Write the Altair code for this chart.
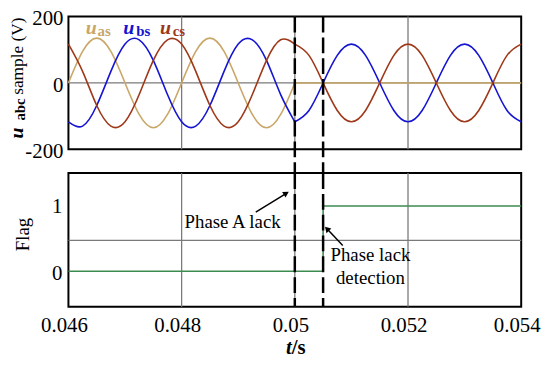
import altair as alt
import pandas as pd

# ---------------- data ----------------
t_pre = [0.046, 0.04625, 0.0465, 0.04675, 0.047, 0.04725, 0.0475, 0.04775,
         0.048, 0.04825, 0.0485, 0.04875, 0.049, 0.04925, 0.0495, 0.04975, 0.05]
t_post = [0.05, 0.05025, 0.0505, 0.05075, 0.051, 0.05125, 0.0515, 0.05175,
          0.052, 0.05225, 0.0525, 0.05275, 0.053, 0.05325, 0.0535, 0.05375, 0.054]

ua_pre = [0, 95, 135, 95, 0, -95, -135, -95, 0, 95, 135, 95, 0, -95, -135, -95, 0]
ub_pre = [-117, -130, -68, 35, 117, 130, 68, -35, -117, -130, -68, 35, 117, 130, 68, -35, -117]
uc_pre = [117, 35, -68, -130, -117, -35, 68, 130, 117, 35, -68, -130, -117, -35, 68, 130, 117]

ua_post = [0, 0, 0, 0, 0, 0, 0, 0, 0, 0, 0, 0, 0, 0, 0, 0, 0]
ub_post = [-117, -83, 0, 83, 117, 83, 0, -83, -117, -83, 0, 83, 117, 83, 0, -83, -117]
uc_post = [117, 83, 0, -83, -117, -83, 0, 83, 117, 83, 0, -83, -117, -83, 0, 83, 117]

flag_t = [0.046, 0.0505, 0.0505, 0.054]
flag_v = [0, 0, 0.97, 0.97]

series_names = ["u_as", "u_bs", "u_cs"]
series_colors = ["#C9A768", "#1414D2", "#9E3818"]

x_ticks = [0.046, 0.048, 0.05, 0.052, 0.054]
x_tick_labels = ["0.046", "0.048", "0.05", "0.052", "0.054"]
x_grid = [0.048, 0.05, 0.052]
event_t = [0.05, 0.0505]
top_ticks = [-200, 0, 200]
top_tick_labels = ["-200", "0", "200"]
bot_ticks = [0, 1]
bot_tick_labels = ["0", "1"]

# ---------------- tables ----------------
rows = []
for seg, tt, groups in [("pre", t_pre, [ua_pre, ub_pre, uc_pre]),
                        ("post", t_post, [ua_post, ub_post, uc_post])]:
    for name, vals in zip(series_names, groups):
        for t, v in zip(tt, vals):
            rows.append({"t": t, "v": v, "series": name, "seg": name + seg})
wave = pd.DataFrame(rows)
flag = pd.DataFrame({"t": flag_t, "f": flag_v, "i": list(range(len(flag_t)))})
grid_df = pd.DataFrame({"t": x_grid})
event_df = pd.DataFrame({"t": event_t})
xt_df = pd.DataFrame({"t": x_ticks, "lab": x_tick_labels})
yt_top_df = pd.DataFrame({"v": top_ticks, "lab": top_tick_labels})
yt_bot_df = pd.DataFrame({"f": bot_ticks, "lab": bot_tick_labels})

FONT = "Liberation Serif"
W = 457
H1 = 134
H2 = 135
GAP = 24

xs = alt.Scale(domain=[0.046, 0.054], nice=False, zero=False)
ys_top = alt.Scale(domain=[-200, 200], nice=False)
ys_bot = alt.Scale(domain=[-0.53, 1.46], nice=False)

X = lambda f: alt.X(f, scale=xs, axis=None)
YT = lambda f: alt.Y(f, scale=ys_top, axis=None)
YB = lambda f: alt.Y(f, scale=ys_bot, axis=None)
one = pd.DataFrame({"a": [0]})

# ---------------- top panel ----------------
vgrid_top = alt.Chart(grid_df).mark_rule(color="#7a7a7a", strokeWidth=1.3).encode(x=X("t:Q"))
hgrid_top = alt.Chart(pd.DataFrame({"v": [0]})).mark_rule(color="#7a7a7a", strokeWidth=1.3).encode(
    y=YT("v:Q"))

waves = alt.Chart(wave).mark_line(strokeWidth=1.6, interpolate="natural").encode(
    x=X("t:Q"), y=YT("v:Q"),
    color=alt.Color("series:N", scale=alt.Scale(domain=series_names, range=series_colors),
                    legend=None),
    detail="seg:N",
)

dashes_top = alt.Chart(event_df).mark_rule(color="black", strokeWidth=2.5, strokeDash=[16, 5]).encode(
    x=X("t:Q"), y=alt.value(0), y2=alt.value(H1 + GAP))

ylab_top = alt.Chart(yt_top_df).mark_text(align="right", baseline="middle", font=FONT,
                                          fontSize=21, color="black", dx=-5, dy=3).encode(
    x=alt.value(0), y=YT("v:Q"), text="lab:N")

leg_u = pd.DataFrame({"t": [0.046306, 0.046969, 0.047616], "v": [146, 146, 146],
                      "series": series_names, "txt": ["u", "u", "u"]})
leg_sub = pd.DataFrame({"t": [0.046515, 0.047197, 0.047843], "v": [140, 140, 140],
                        "series": series_names, "txt": ["as", "bs", "cs"]})
leg_colors = ["#CBA060", "#1414D2", "#C0301E"]
legend_u = alt.Chart(leg_u).mark_text(align="left", baseline="alphabetic", font=FONT,
                                      fontSize=20, fontWeight="bold", fontStyle="italic").encode(
    x=X("t:Q"), y=YT("v:Q"), text="txt:N",
    color=alt.Color("series:N", scale=alt.Scale(domain=series_names, range=leg_colors), legend=None))
legend_sub = alt.Chart(leg_sub).mark_text(align="left", baseline="alphabetic", font=FONT,
                                          fontSize=15, fontWeight="bold").encode(
    x=X("t:Q"), y=YT("v:Q"), text="txt:N",
    color=alt.Color("series:N", scale=alt.Scale(domain=series_names, range=leg_colors), legend=None))

title_u = alt.Chart(one).mark_text(
    angle=270, align="left", baseline="alphabetic", font=FONT, fontSize=20,
    fontWeight="bold", fontStyle="italic", color="black", text="u").encode(
    x=alt.value(-46), y=alt.value(123))
title_abc = alt.Chart(one).mark_text(
    angle=270, align="left", baseline="alphabetic", font=FONT, fontSize=15,
    fontWeight="bold", color="black", text="abc").encode(
    x=alt.value(-44), y=alt.value(105))
title_rest = alt.Chart(one).mark_text(
    angle=270, align="left", baseline="alphabetic", font=FONT, fontSize=17.5,
    color="black", text="sample (V)").encode(
    x=alt.value(-46), y=alt.value(79))

top = alt.layer(vgrid_top, hgrid_top, waves, legend_u, legend_sub, ylab_top,
                title_u, title_abc, title_rest, dashes_top).properties(width=W, height=H1)

# ---------------- bottom panel ----------------
vgrid_bot = alt.Chart(grid_df).mark_rule(color="#7a7a7a", strokeWidth=1.3).encode(x=X("t:Q"))
hgrid_bot = alt.Chart(pd.DataFrame({"f": [0.46]})).mark_rule(color="#7a7a7a", strokeWidth=1.3).encode(
    y=YB("f:Q"))

flag_line = alt.Chart(flag).mark_line(color="#3C8C50", strokeWidth=1.6).encode(
    x=X("t:Q"), y=YB("f:Q"), order="i:Q")

dashes_bot = alt.Chart(event_df).mark_rule(color="black", strokeWidth=2.5, strokeDash=[16, 5]).encode(
    x=X("t:Q"), y=alt.value(0), y2=alt.value(H2))

arrows = pd.DataFrame({"t0": [0.04931, 0.050847], "f0": [0.88, 0.382],
                       "t1": [0.04985, 0.050568], "f1": [1.16, 0.632],
                       "ang": [59, 317]})
arrow_lines = alt.Chart(arrows).mark_rule(color="black", strokeWidth=1.5).encode(
    x=X("t0:Q"), y=YB("f0:Q"), x2="t1:Q", y2="f1:Q")
arrow_heads = alt.Chart(arrows).mark_point(shape="triangle-up", filled=True, size=45,
                                           color="black", opacity=1).encode(
    x=X("t1:Q"), y=YB("f1:Q"), angle=alt.Angle("ang:Q", scale=None))

note1 = alt.Chart(pd.DataFrame({"t": [0.048052], "f": [0.647], "txt": ["Phase A lack"]})).mark_text(
    align="left", baseline="alphabetic", font=FONT, fontSize=19, color="black").encode(
    x=X("t:Q"), y=YB("f:Q"), text="txt:N")
note2 = alt.Chart(pd.DataFrame({"t": [0.051336], "f": [0.147], "txt": ["Phase lack\ndetection"]})).mark_text(
    align="center", baseline="alphabetic", font=FONT, fontSize=19, color="black",
    lineBreak="\n", lineHeight=23).encode(
    x=X("t:Q"), y=YB("f:Q"), text="txt:N")

flag_title = alt.Chart(one).mark_text(
    angle=270, align="center", baseline="alphabetic", font=FONT, fontSize=19,
    color="black", text="Flag").encode(x=alt.value(-40), y=alt.value(62))

ylab_bot = alt.Chart(yt_bot_df).mark_text(align="right", baseline="middle", font=FONT,
                                          fontSize=21, color="black", dx=-6, dy=3).encode(
    x=alt.value(0), y=YB("f:Q"), text="lab:N")
xlab_bot = alt.Chart(xt_df).mark_text(align="center", baseline="alphabetic", font=FONT,
                                      fontSize=21, color="black", dx=-4).encode(
    x=X("t:Q"), y=alt.value(H2 + 25), text="lab:N")
xtitle_t = alt.Chart(pd.DataFrame({"t": [0.05]})).mark_text(
    align="right", baseline="alphabetic", font=FONT, fontSize=21, fontWeight="bold",
    fontStyle="italic", color="black", text="t", dx=-3).encode(x=X("t:Q"), y=alt.value(H2 + 48))
xtitle_s = alt.Chart(pd.DataFrame({"t": [0.05]})).mark_text(
    align="left", baseline="alphabetic", font=FONT, fontSize=21, fontWeight="bold",
    color="black", text="/s", dx=-3).encode(x=X("t:Q"), y=alt.value(H2 + 48))

bottom = alt.layer(vgrid_bot, hgrid_bot, flag_line, dashes_bot, arrow_lines, arrow_heads,
                   note1, note2, flag_title, ylab_bot, xlab_bot, xtitle_t, xtitle_s
                   ).properties(width=W, height=H2)

chart = alt.vconcat(top, bottom, spacing=GAP, bounds="flush").resolve_scale(
    x="shared").properties(
    padding={"left": -2, "top": -2, "right": 0, "bottom": 0}
).configure_view(stroke="black", strokeWidth=2)

chart.save("out.html", embed_options={"renderer": "svg", "actions": False})
